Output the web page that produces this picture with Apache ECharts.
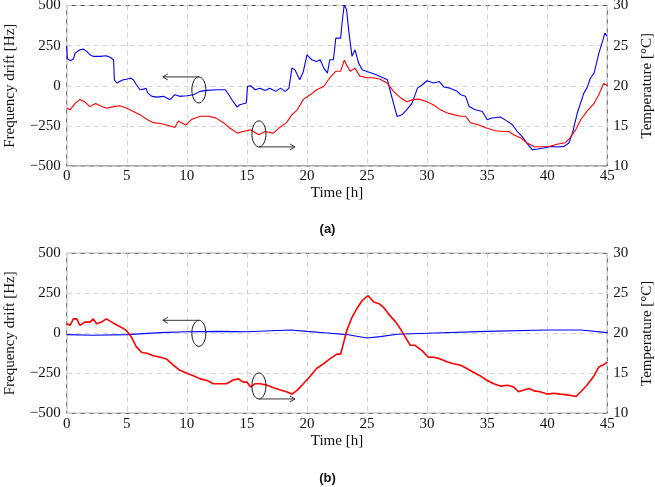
<!DOCTYPE html>
<html>
<head>
<meta charset="utf-8">
<script src="https://cdn.jsdelivr.net/npm/echarts@6/dist/echarts.min.js"></script>
<style>html,body{margin:0;padding:0;background:#fff;}#c{width:655px;height:487px;}</style>
</head>
<body>
<div id="c"></div>
<script>
// ---- Data ----
// x ticks / y ticks
var timeTicks = [0, 5, 10, 15, 20, 25, 30, 35, 40, 45];
var freqTicks = [-500, -250, 0, 250, 500];
var tempTicks = [10, 15, 20, 25, 30];

// Panel (a): frequency drift [Hz] (blue) and temperature [°C] (red)
var aBlue = [[0,250],[0.05,170],[0.15,160],[0.3,156],[0.56,166],[0.7,203],[1.1,224],[1.4,228],[1.67,214],[1.94,193],[2.2,183],[2.8,183],[3.3,187],[3.6,178],[3.9,162],[3.97,37],[4.17,17],[4.4,27],[4.7,37],[5,41],[5.3,48],[5.55,37],[5.8,6],[6.1,-25],[6.4,-21],[6.6,-15],[6.75,-46],[7.1,-66],[7.5,-71],[8.05,-66],[8.6,-87],[9.0,-56],[9.4,-66],[10,-62],[10.55,-56],[11.1,-35],[11.7,-29],[12.5,-25],[13.2,-25],[13.5,-56],[13.75,-87],[14.2,-133],[14.4,-118],[14.7,-112],[14.95,-108],[15.05,-4],[15.3,0],[15.7,-25],[16.1,-15],[16.5,-29],[16.9,-15],[17.4,-35],[17.8,-15],[18.2,-35],[18.5,-15],[18.75,110],[19.0,100],[19.2,68],[19.4,37],[19.7,89],[20,193],[20.4,162],[20.8,151],[21.1,162],[21.4,110],[21.7,79],[21.9,162],[22.2,162],[22.4,297],[22.8,297],[22.95,411],[23.1,504],[23.3,473],[23.5,328],[23.75,183],[24.0,224],[24.3,141],[24.6,100],[25,89],[25.55,75],[26.1,58],[26.7,37],[26.9,-25],[27.2,-108],[27.5,-191],[27.9,-181],[28.3,-150],[28.75,-108],[29.2,-15],[29.6,6],[30,31],[30.55,17],[31,27],[31.4,-8],[31.9,-15],[32.5,-35],[32.8,-56],[33.2,-66],[33.5,-129],[34.0,-150],[34.6,-160],[35,-212],[35.4,-201],[36.1,-195],[36.7,-222],[37.1,-243],[37.5,-284],[37.9,-315],[38.3,-357],[38.75,-398],[39.2,-394],[39.7,-388],[40.3,-378],[40.8,-382],[41.4,-378],[41.8,-357],[42.1,-295],[42.5,-170],[43.05,-46],[43.3,-15],[43.6,48],[43.9,79],[44.3,203],[44.6,276],[44.8,328],[45,307]];
var aRed = [[0,17.2],[0.28,17.0],[0.7,17.8],[1.1,18.3],[1.5,18.0],[1.94,17.4],[2.4,17.8],[2.8,17.5],[3.3,17.2],[3.9,17.4],[4.4,17.5],[5,17.2],[5.55,16.8],[6.1,16.4],[6.7,15.8],[7.2,15.4],[7.8,15.3],[8.3,15.1],[9.0,14.8],[9.3,15.6],[9.9,15.1],[10.4,15.8],[11.1,16.2],[11.8,16.2],[12.4,16.0],[13.05,15.4],[13.6,14.7],[14.2,14.1],[14.7,14.3],[15.3,14.5],[15.55,14.3],[16,13.9],[16.5,14.3],[17.2,14.1],[17.8,14.9],[18.3,15.4],[18.75,16.4],[19.2,17.0],[19.7,18.3],[20.3,18.9],[20.8,19.5],[21.4,19.9],[21.9,21.0],[22.4,21.8],[22.8,21.8],[23.1,23.2],[23.3,22.6],[23.6,21.8],[24.0,22.2],[24.4,21.2],[25,21.0],[25.55,21.0],[26.1,20.8],[26.7,20.3],[27.2,19.3],[27.8,18.5],[28.3,18.0],[28.9,18.3],[29.4,18.3],[30,18.0],[30.55,17.6],[31.1,17.0],[31.7,16.6],[32.2,16.4],[32.8,16.2],[33.2,16.2],[33.6,15.4],[34.3,15.1],[35,14.7],[35.7,14.4],[36.4,14.3],[36.8,14.3],[37.2,13.9],[37.8,13.5],[38.3,12.9],[38.9,12.4],[39.4,12.4],[40.1,12.4],[40.8,12.7],[41.5,12.9],[41.9,13.5],[42.4,14.6],[42.8,15.8],[43.3,16.8],[43.9,17.8],[44.3,18.9],[44.7,20.3],[45,20.0]];

// Panel (b)
var bBlue = [[0,-8],[2.2,-12],[5,-8],[7.8,4],[10,10],[12.8,12],[15,10],[18.6,21],[20,12],[21.7,2],[23.3,-8],[25,-29],[26.1,-21],[27.5,-6],[30,0],[35,12],[40,21],[42.8,21],[45,4]];
var bRed = [[0,21.2],[0.28,21.0],[0.56,21.8],[0.83,21.8],[1.1,21.0],[1.5,21.4],[1.94,21.4],[2.2,21.8],[2.5,21.2],[2.9,21.4],[3.3,21.8],[3.75,21.4],[4.2,21.0],[4.6,20.7],[5,20.3],[5.4,19.5],[5.8,18.3],[6.25,17.6],[6.7,17.5],[7.2,17.2],[7.8,17.0],[8.3,16.8],[8.9,16.0],[9.4,15.4],[10,15.0],[10.55,14.7],[11.1,14.3],[11.7,14.1],[12.2,13.7],[12.8,13.7],[13.3,13.7],[13.9,14.2],[14.3,14.3],[14.7,13.9],[15.0,13.9],[15.3,13.3],[15.7,13.7],[16.1,13.7],[16.7,13.5],[17.2,13.2],[17.8,12.9],[18.3,12.7],[18.75,12.4],[19.2,12.9],[19.7,13.7],[20.3,14.7],[20.8,15.6],[21.4,16.2],[21.9,16.8],[22.5,17.4],[22.8,17.4],[23.1,19.1],[23.3,20.3],[23.75,22.0],[24.2,23.2],[24.6,24.1],[24.9,24.5],[25.1,24.7],[25.55,23.9],[26,23.7],[26.4,23.2],[26.8,22.4],[27.4,21.4],[27.8,20.5],[28.2,19.5],[28.6,18.5],[29.0,18.5],[29.6,17.8],[30.1,17.0],[30.55,17.0],[31.1,16.8],[31.7,16.4],[32.2,16.2],[32.8,16.0],[33.3,15.6],[33.9,15.1],[34.4,14.7],[35,14.1],[35.55,13.7],[36.1,13.4],[36.7,13.5],[37.2,13.3],[37.6,12.7],[38.05,12.9],[38.5,13.1],[38.9,12.8],[39.4,12.7],[40,12.4],[40.55,12.5],[41.1,12.4],[41.7,12.3],[42.4,12.1],[42.8,12.7],[43.3,13.5],[43.9,14.7],[44.3,15.8],[44.6,16.0],[45,16.4]];

// Annotations: [ellipse centre time, centre value (Hz, left axis), arrow end time, direction: -1 = arrow from top going left, 1 = from bottom going right]
var aNotes = [[11, -26, 8, -1], [16, -300, 19, 1]];
var bNotes = [[11, 0, 8, -1], [16, -329, 19, 1]];

var panelLabels = ['(a)', '(b)'];

// ---- Chart ----
var serif = '"Liberation Serif", "Times New Roman", serif';
var chart = echarts.init(document.getElementById('c'), null, {renderer: 'canvas'});

function fmtMinus(v) { return String(v).replace('-', '\u2212'); }

function xAx(gi) {
  return {
    type: 'value', gridIndex: gi, min: timeTicks[0], max: timeTicks[timeTicks.length - 1], interval: 5,
    name: 'Time [h]', nameLocation: 'middle', nameGap: 20,
    nameTextStyle: {fontFamily: serif, fontSize: 15, color: '#111'},
    axisLine: {show: false}, axisTick: {show: false},
    axisLabel: {fontFamily: serif, fontSize: 15, color: '#111', margin: 3},
    splitLine: {show: true, lineStyle: {type: [5, 4], color: '#d4d4d4', width: 1}}
  };
}
function yLeft(gi) {
  return {
    type: 'value', gridIndex: gi, position: 'left', min: freqTicks[0], max: freqTicks[freqTicks.length - 1], interval: 250,
    name: 'Frequency drift [Hz]', nameLocation: 'middle', nameGap: 49, nameRotate: 90,
    nameTextStyle: {fontFamily: serif, fontSize: 15, color: '#111'},
    axisLine: {show: false}, axisTick: {show: false},
    axisLabel: {fontFamily: serif, fontSize: 15, color: '#111', margin: 6, formatter: fmtMinus},
    splitLine: {show: true, lineStyle: {type: [5, 4], color: '#d4d4d4', width: 1}}
  };
}
function yRight(gi) {
  return {
    type: 'value', gridIndex: gi, position: 'right', min: tempTicks[0], max: tempTicks[tempTicks.length - 1], interval: 5,
    name: 'Temperature [\u00B0C]', nameLocation: 'middle', nameGap: 31, nameRotate: 90,
    nameTextStyle: {fontFamily: serif, fontSize: 15, color: '#111'},
    axisLine: {show: false}, axisTick: {show: false},
    axisLabel: {fontFamily: serif, fontSize: 15, color: '#111', margin: 6},
    splitLine: {show: false}
  };
}

function noteRender(params, api) {
  var c = api.coord([api.value(0), api.value(1)]);
  var rx = 7, ry = 13;
  var dir = api.value(3);
  var endX = api.coord([api.value(2), api.value(1)])[0];
  var pts = [];
  for (var i = 0; i <= 48; i++) {
    var a = i / 48 * Math.PI * 2;
    pts.push([c[0] + rx * Math.cos(a), c[1] + ry * Math.sin(a)]);
  }
  var ay = c[1] + dir * ry;
  var head = dir < 0
    ? [[endX + 5, ay - 3], [endX, ay], [endX + 5, ay + 3]]
    : [[endX - 5, ay - 3], [endX, ay], [endX - 5, ay + 3]];
  return {
    type: 'group',
    children: [
      {type: 'polyline', shape: {points: pts}, style: {stroke: '#111', fill: null, lineWidth: 1}},
      {type: 'line', shape: {x1: c[0], y1: ay, x2: endX, y2: ay}, style: {stroke: '#333', lineWidth: 1}},
      {type: 'polyline', shape: {points: head}, style: {stroke: '#333', fill: null, lineWidth: 1}}
    ]
  };
}

function lineSeries(data, xi, yi, color, w) {
  return {
    type: 'line', data: data, xAxisIndex: xi, yAxisIndex: yi, showSymbol: false, symbol: 'none',
    lineStyle: {color: color, width: w}, itemStyle: {color: color}, animation: false, silent: true
  };
}

var option = {
  animation: false,
  backgroundColor: '#fff',
  grid: [
    {left: 66.7, right: 47.7, top: 5.5, height: 160.5, show: true, borderColor: '#555', borderWidth: 1, backgroundColor: 'transparent', containLabel: false, outerBoundsMode: 'none'},
    {left: 66.7, right: 47.7, top: 253.3, height: 160, show: true, borderColor: '#555', borderWidth: 1, backgroundColor: 'transparent', containLabel: false, outerBoundsMode: 'none'}
  ],
  xAxis: [xAx(0), xAx(1)],
  yAxis: [yLeft(0), yRight(0), yLeft(1), yRight(1)],
  graphic: [
    {type: 'text', left: 'center', top: 223, style: {text: panelLabels[0], font: 'bold 13px "Liberation Sans", Arial, sans-serif', fill: '#111'}},
    {type: 'text', left: 'center', top: 472, style: {text: panelLabels[1], font: 'bold 13px "Liberation Sans", Arial, sans-serif', fill: '#111'}}
  ],
  series: [
    lineSeries(aBlue, 0, 0, '#0000ff', 1.1),
    lineSeries(aRed, 0, 1, '#ff0000', 1.1),
    lineSeries(bBlue, 1, 2, '#0000ff', 1.1),
    lineSeries(bRed, 1, 3, '#ff0000', 1.6),
    {type: 'custom', xAxisIndex: 0, yAxisIndex: 0, data: aNotes, renderItem: noteRender, z: 10, silent: true, clip: false, encode: {x: 0, y: 1}},
    {type: 'custom', xAxisIndex: 1, yAxisIndex: 2, data: bNotes, renderItem: noteRender, z: 10, silent: true, clip: false, encode: {x: 0, y: 1}}
  ]
};
chart.setOption(option);
</script>
</body>
</html>
